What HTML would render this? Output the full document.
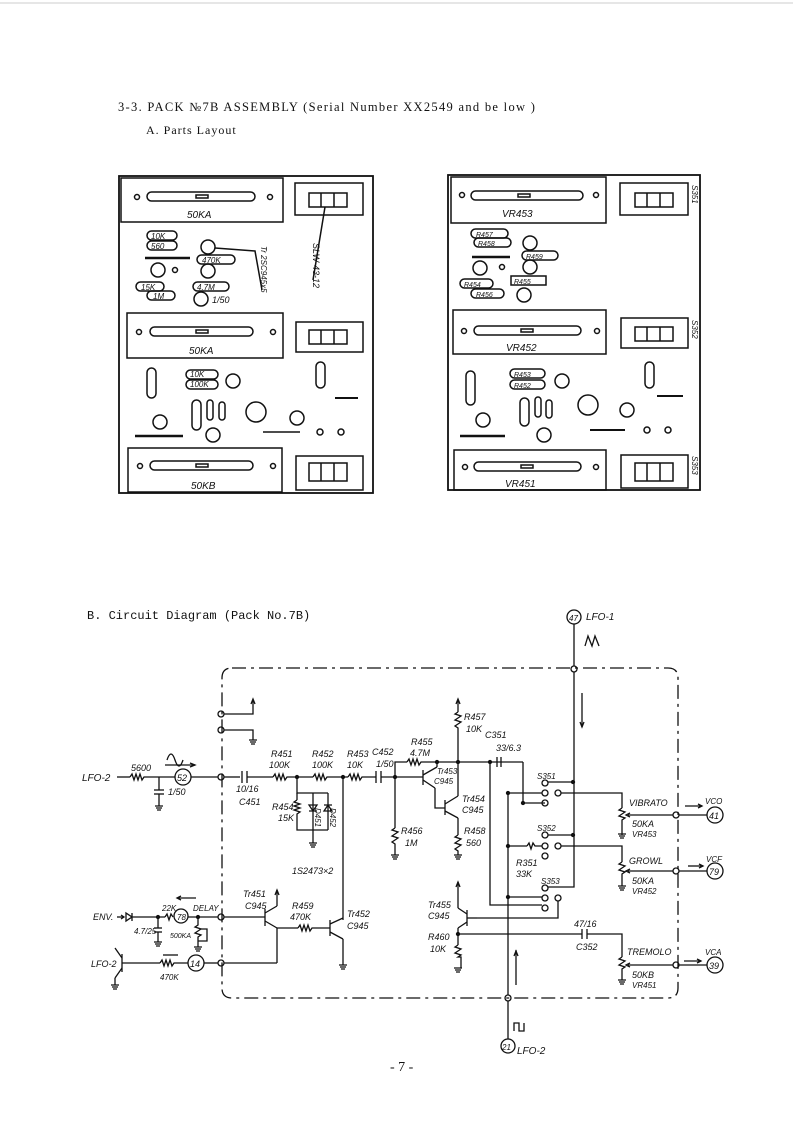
<!DOCTYPE html>
<html><head><meta charset="utf-8"><style>
html,body{margin:0;padding:0;background:#fff}
svg{display:block}
.s{font-family:"Liberation Serif",serif;fill:#111}
.m{font-family:"Liberation Mono",monospace;fill:#111}
.h{font-family:"Liberation Sans",sans-serif;font-style:italic;fill:#111}
</style></head><body>
<svg width="793" height="1122" viewBox="0 0 793 1122" xmlns="http://www.w3.org/2000/svg">
<rect width="793" height="1122" fill="#fff"/>
<line x1="0" y1="3" x2="793" y2="3" stroke="#ccc" stroke-width="1"/>
<text x="118" y="111" class="s" font-size="12.5" letter-spacing="1.3">3-3. PACK №7B ASSEMBLY (Serial Number XX2549 and be low )</text>
<text x="146" y="134" class="s" font-size="12" letter-spacing="1">A. Parts Layout</text>

<g fill="none" stroke="#111" stroke-width="1.5">
<rect x="119" y="176" width="254" height="317" stroke-width="1.8"/>
<rect x="121" y="178" width="162" height="44"/>
<rect x="127" y="313" width="156" height="45"/>
<rect x="128" y="448" width="154" height="44"/>
<rect x="295" y="183" width="68" height="32"/>
<rect x="296" y="322" width="67" height="30"/>
<rect x="296" y="456" width="67" height="34"/>
<rect x="309" y="193" width="38" height="14"/><line x1="321" y1="193" x2="321" y2="207"/><line x1="334" y1="193" x2="334" y2="207"/>
<rect x="309" y="330" width="38" height="14"/><line x1="321" y1="330" x2="321" y2="344"/><line x1="334" y1="330" x2="334" y2="344"/>
<rect x="309" y="463" width="38" height="18"/><line x1="321" y1="463" x2="321" y2="481"/><line x1="334" y1="463" x2="334" y2="481"/>
<rect x="147" y="192" width="108" height="9" rx="4.5"/><rect x="196" y="195" width="12" height="3"/>
<rect x="150" y="327" width="103" height="9" rx="4.5"/><rect x="196" y="330" width="12" height="3"/>
<rect x="150" y="461" width="103" height="9" rx="4.5"/><rect x="196" y="464" width="12" height="3"/>
<circle cx="137" cy="197" r="2.5"/><circle cx="270" cy="197" r="2.5"/>
<circle cx="139" cy="332" r="2.5"/><circle cx="273" cy="332" r="2.5"/>
<circle cx="140" cy="466" r="2.5"/><circle cx="273" cy="466" r="2.5"/>
<rect x="147" y="231" width="30" height="9" rx="4.5"/><rect x="147" y="241" width="30" height="9" rx="4.5"/>
<rect x="197" y="255" width="38" height="9" rx="4.5"/><rect x="193" y="282" width="36" height="9" rx="4.5"/>
<rect x="136" y="282" width="28" height="9" rx="4.5"/><rect x="147" y="291" width="28" height="9" rx="4.5"/>
<circle cx="208" cy="247" r="7"/><circle cx="208" cy="271" r="7"/><circle cx="158" cy="270" r="7"/><circle cx="175" cy="270" r="2.5"/>
<circle cx="201" cy="299" r="7"/><line x1="145" y1="258" x2="190" y2="258" stroke-width="2.5"/>
<polyline points="215,248 255,251 262,290"/>
<line x1="325" y1="207" x2="313" y2="280"/>
<rect x="186" y="370" width="32" height="9" rx="4.5"/><rect x="186" y="380" width="32" height="9" rx="4.5"/>
<rect x="147" y="368" width="9" height="30" rx="4.5"/><rect x="192" y="400" width="9" height="30" rx="4.5"/>
<rect x="207" y="400" width="6" height="20" rx="3"/><rect x="219" y="402" width="6" height="18" rx="3"/>
<rect x="316" y="362" width="9" height="26" rx="4.5"/>
<circle cx="233" cy="381" r="7"/><circle cx="160" cy="422" r="7"/>
<circle cx="256" cy="412" r="10"/><circle cx="297" cy="418" r="7"/><circle cx="213" cy="435" r="7"/>
<line x1="135" y1="436" x2="183" y2="436" stroke-width="2.5"/><line x1="263" y1="432" x2="300" y2="432"/>
<circle cx="320" cy="432" r="3"/><circle cx="341" cy="432" r="3"/><line x1="335" y1="398" x2="358" y2="398" stroke-width="2"/>
<rect x="448" y="175" width="252" height="315" stroke-width="1.8"/>
<rect x="451" y="177" width="155" height="46"/>
<rect x="453" y="310" width="153" height="44"/>
<rect x="454" y="450" width="152" height="40"/>
<rect x="620" y="183" width="68" height="32"/>
<rect x="621" y="318" width="67" height="30"/>
<rect x="621" y="455" width="67" height="33"/>
<rect x="635" y="193" width="38" height="14"/><line x1="647" y1="193" x2="647" y2="207"/><line x1="660" y1="193" x2="660" y2="207"/>
<rect x="635" y="327" width="38" height="14"/><line x1="647" y1="327" x2="647" y2="341"/><line x1="660" y1="327" x2="660" y2="341"/>
<rect x="635" y="463" width="38" height="18"/><line x1="647" y1="463" x2="647" y2="481"/><line x1="660" y1="463" x2="660" y2="481"/>
<rect x="471" y="191" width="112" height="9" rx="4.5"/><rect x="518" y="194" width="12" height="3"/>
<rect x="474" y="326" width="107" height="9" rx="4.5"/><rect x="521" y="329" width="12" height="3"/>
<rect x="474" y="462" width="107" height="9" rx="4.5"/><rect x="521" y="465" width="12" height="3"/>
<circle cx="462" cy="195" r="2.5"/><circle cx="596" cy="195" r="2.5"/>
<circle cx="464" cy="331" r="2.5"/><circle cx="597" cy="331" r="2.5"/>
<circle cx="465" cy="467" r="2.5"/><circle cx="596" cy="467" r="2.5"/>
<rect x="471" y="229" width="37" height="9" rx="4.5"/><rect x="474" y="238" width="37" height="9" rx="4.5"/>
<rect x="522" y="251" width="36" height="9" rx="4.5"/><rect x="511" y="276" width="35" height="9"/>
<rect x="460" y="279" width="33" height="9" rx="4.5"/><rect x="471" y="289" width="33" height="9" rx="4.5"/>
<circle cx="530" cy="243" r="7"/><circle cx="530" cy="267" r="7"/><circle cx="480" cy="268" r="7"/><circle cx="502" cy="267" r="2.5"/>
<circle cx="524" cy="295" r="7"/><line x1="472" y1="257" x2="510" y2="257" stroke-width="2.5"/>
<rect x="510" y="369" width="35" height="9" rx="4.5"/><rect x="510" y="380" width="35" height="9" rx="4.5"/>
<rect x="466" y="371" width="9" height="34" rx="4.5"/><rect x="520" y="398" width="9" height="28" rx="4.5"/>
<rect x="535" y="397" width="6" height="20" rx="3"/><rect x="546" y="400" width="6" height="18" rx="3"/>
<rect x="645" y="362" width="9" height="26" rx="4.5"/>
<circle cx="562" cy="381" r="7"/><circle cx="483" cy="420" r="7"/>
<circle cx="588" cy="405" r="10"/><circle cx="627" cy="410" r="7"/><circle cx="544" cy="435" r="7"/>
<line x1="460" y1="436" x2="505" y2="436" stroke-width="2.5"/><line x1="590" y1="430" x2="625" y2="430" stroke-width="2"/>
<circle cx="647" cy="430" r="3"/><circle cx="668" cy="430" r="3"/><line x1="657" y1="396" x2="683" y2="396" stroke-width="2"/>
</g>
<g class="h" font-size="10">
<text x="187" y="218">50KA</text><text x="189" y="354">50KA</text><text x="191" y="489">50KB</text>
<text x="151" y="239" font-size="8">10K</text><text x="151" y="249" font-size="8">560</text>
<text x="202" y="263" font-size="8">470K</text><text x="197" y="290" font-size="8">4.7M</text>
<text x="141" y="290" font-size="8">15K</text><text x="153" y="299" font-size="8">1M</text>
<text x="212" y="303" font-size="9">1/50</text>
<text x="190" y="377" font-size="8">10K</text><text x="190" y="387" font-size="8">100K</text>
<text x="0" y="0" font-size="8" transform="translate(261,246) rotate(90)">Tr 2SC945x5</text>
<text x="0" y="0" font-size="9" transform="translate(313,243) rotate(90)">SLW-43-12</text>
<text x="502" y="217">VR453</text><text x="506" y="351">VR452</text><text x="505" y="487">VR451</text>
<text x="476" y="237" font-size="7">R457</text><text x="478" y="246" font-size="7">R458</text>
<text x="526" y="259" font-size="7">R459</text><text x="514" y="284" font-size="7">R455</text>
<text x="464" y="287" font-size="7">R454</text><text x="476" y="297" font-size="7">R456</text>
<text x="514" y="377" font-size="7">R453</text><text x="514" y="388" font-size="7">R452</text>
<text x="0" y="0" font-size="8" transform="translate(692,185) rotate(90)">S351</text>
<text x="0" y="0" font-size="8" transform="translate(692,320) rotate(90)">S352</text>
<text x="0" y="0" font-size="8" transform="translate(692,456) rotate(90)">S353</text>
</g>

<text x="87" y="619" class="m" font-size="12">B. Circuit Diagram (Pack No.7B)</text>

<g fill="none" stroke="#111" stroke-width="1.3">
<path d="M232,668 H668 Q678,668 678,678 V988 Q678,998 668,998 H232 Q222,998 222,988 V678 Q222,668 232,668 Z" stroke-dasharray="14,5,3,5"/>
<line x1="117" y1="777" x2="130" y2="777"/>
<path d="M130,777 l2,-3 l2,6 l2,-6 l2,6 l2,-6 l2,6 l2,-3 H175"/>
<circle cx="183" cy="777" r="8"/><line x1="191" y1="777" x2="218" y2="777"/>
<line x1="159" y1="777" x2="159" y2="790"/><line x1="154" y1="790" x2="164" y2="790"/><line x1="154" y1="794" x2="164" y2="794"/><line x1="159" y1="794" x2="159" y2="806"/>
<path d="M155,806 h8 M156,808 h6 M157,810 h4"/>
<line x1="165" y1="765" x2="195" y2="765"/><path d="M190,763 l5,2 l-5,2"/>
<path d="M167,760 q4,-12 8,0 q4,12 8,0"/>
<circle cx="221" cy="777" r="3"/>
<line x1="224" y1="777" x2="240" y2="777"/>
<line x1="242" y1="771" x2="242" y2="783"/><line x1="247" y1="771" x2="247" y2="783"/>
<line x1="247" y1="777" x2="273" y2="777"/>
<path d="M273,777 l2,-3 l2,6 l2,-6 l2,6 l2,-6 l2,6 l2,-3 H313"/>
<path d="M313,777 l2,-3 l2,6 l2,-6 l2,6 l2,-6 l2,6 l2,-3 H348"/>
<path d="M348,777 l2,-3 l2,6 l2,-6 l2,6 l2,-6 l2,6 l2,-3 H376"/>
<line x1="376" y1="771" x2="376" y2="783"/><line x1="381" y1="771" x2="381" y2="783"/>
<line x1="381" y1="777" x2="423" y2="777"/>
<circle cx="297" cy="777" r="1.5" fill="#111"/><circle cx="343" cy="777" r="1.5" fill="#111"/><circle cx="395" cy="777" r="1.5" fill="#111"/>
<circle cx="221" cy="714" r="3"/><polyline points="224,714 253,714 253,700"/>
<path d="M251,704 l2,-5 l2,5"/>
<circle cx="221" cy="730" r="3"/><polyline points="224,730 253,730 253,740"/>
<path d="M249,740 h8 M250,742 h6 M251,744 h4"/>
<polyline points="297,777 297,793 328,793"/>
<path d="M297,800 l-3,2 l6,2 l-6,2 l6,2 l-6,2 l6,2 l-3,2 V830 H328"/>
<line x1="297" y1="793" x2="297" y2="800"/>
<line x1="313" y1="793" x2="313" y2="830"/><path d="M309,805 h8 l-4,6 z M309,811 h8"/>
<line x1="328" y1="793" x2="328" y2="830"/><path d="M324,811 h8 l-4,-6 z M324,805 h8"/>
<line x1="313" y1="830" x2="313" y2="843"/><path d="M309,843 h8 M310,845 h6 M311,847 h4"/>
<line x1="343" y1="777" x2="343" y2="920"/>
<line x1="395" y1="777" x2="395" y2="828"/>
<path d="M395,828 l-3,2 l6,2 l-3,2 l-3,2 l6,2 l-3,2 l-3,2 l3,2 V855"/>
<path d="M391,855 h8 M392,857 h6 M393,859 h4"/>
<polyline points="395,777 395,762 407,762"/>
<path d="M407,762 l2,-3 l2,6 l2,-6 l2,6 l2,-6 l2,6 l2,-3 H523"/>
<circle cx="437" cy="762" r="1.5" fill="#111"/><circle cx="458" cy="762" r="1.5" fill="#111"/><circle cx="490" cy="762" r="1.5" fill="#111"/>
<line x1="423" y1="770" x2="423" y2="785"/><line x1="423" y1="775" x2="437" y2="767"/><line x1="437" y1="767" x2="437" y2="762"/>
<line x1="423" y1="780" x2="435" y2="788"/><polyline points="435,788 435,808 445,808"/>
<line x1="445" y1="800" x2="445" y2="815"/><line x1="445" y1="804" x2="458" y2="796"/><line x1="458" y1="796" x2="458" y2="762"/>
<line x1="445" y1="811" x2="458" y2="818"/><line x1="458" y1="818" x2="458" y2="835"/>
<path d="M458,835 l-3,2 l6,2 l-3,2 l-3,2 l6,2 l-3,2 l-3,2 l3,2 V855"/>
<path d="M454,855 h8 M455,857 h6 M456,859 h4"/>
<line x1="458" y1="700" x2="458" y2="712"/><path d="M456,704 l2,-5 l2,5"/>
<path d="M458,712 l-3,2 l6,2 l-3,2 l-3,2 l6,2 l-3,2 l-3,2 l3,2 V762"/>
<line x1="497" y1="757" x2="497" y2="767"/><line x1="501" y1="757" x2="501" y2="767"/>
<polyline points="523,762 523,803 545,803"/>
<polyline points="490,762 490,905 542,905"/>
<circle cx="545" cy="783" r="3"/><circle cx="545" cy="793" r="3"/><circle cx="558" cy="793" r="3"/><circle cx="545" cy="803" r="3"/>
<circle cx="545" cy="835" r="3"/><circle cx="545" cy="846" r="3"/><circle cx="558" cy="846" r="3"/><circle cx="545" cy="856" r="3"/>
<circle cx="545" cy="888" r="3"/><circle cx="545" cy="898" r="3"/><circle cx="558" cy="898" r="3"/><circle cx="545" cy="908" r="3"/>
<circle cx="574" cy="617" r="7"/><line x1="574" y1="624" x2="574" y2="666"/><circle cx="574" cy="669" r="3"/>
<polyline points="574,672 574,887 548,887"/>
<line x1="548" y1="782" x2="574" y2="782"/><line x1="548" y1="835" x2="574" y2="835"/>
<circle cx="573" cy="782" r="1.5" fill="#111"/><circle cx="573" cy="835" r="1.5" fill="#111"/>
<path d="M585,646 l3,-10 l4,10 l3,-10 l4,10"/>
<line x1="582" y1="693" x2="582" y2="727"/><path d="M580,722 l2,5 l2,-5"/>
<polyline points="561,793 622,793 622,808"/>
<polyline points="508,793 542,793"/>
<polyline points="508,846 527,846"/><path d="M527,846 l2,-3 l2,6 l2,-6 l2,3 H542"/>
<polyline points="561,846 622,846 622,862"/>
<polyline points="508,897 542,897"/>
<polyline points="558,901 558,918 477,918"/>
<line x1="508" y1="793" x2="508" y2="995"/><circle cx="508" cy="998" r="3"/><line x1="508" y1="1001" x2="508" y2="1039"/>
<circle cx="508" cy="1046" r="7"/>
<path d="M514,1031 v-8 h5 v8 h5 v-8"/>
<line x1="516" y1="950" x2="516" y2="985"/><path d="M514,956 l2,-5 l2,5"/>
<circle cx="508" cy="793" r="1.5" fill="#111"/><circle cx="508" cy="846" r="1.5" fill="#111"/><circle cx="508" cy="897" r="1.5" fill="#111"/>
<circle cx="523" cy="803" r="1.5" fill="#111"/>
<path d="M622,808 l-3,2 l6,2 l-3,2 l-3,2 l6,2 l-3,2 V835"/>
<path d="M618,834 h8 M619,836 h6 M620,838 h4"/>
<line x1="628" y1="815" x2="673" y2="815"/><path d="M630,813 l-4,2 l4,2"/>
<circle cx="676" cy="815" r="3"/><line x1="679" y1="815" x2="707" y2="815"/><circle cx="715" cy="815" r="8"/>
<line x1="685" y1="806" x2="702" y2="806"/><path d="M698,804 l4,2 l-4,2"/>
<path d="M622,862 l-3,2 l6,2 l-3,2 l-3,2 l6,2 l-3,2 V886"/><path d="M618,886 h8 M619,888 h6 M620,890 h4"/>
<line x1="628" y1="871" x2="673" y2="871"/><path d="M630,869 l-4,2 l4,2"/>
<circle cx="676" cy="871" r="3"/><line x1="679" y1="871" x2="707" y2="871"/><circle cx="715" cy="871" r="8"/>
<line x1="688" y1="866" x2="703" y2="866"/><path d="M699,864 l4,2 l-4,2"/>
<polyline points="458,934 582,934"/><line x1="582" y1="929" x2="582" y2="939"/><line x1="587" y1="929" x2="587" y2="939"/>
<polyline points="587,934 622,934 622,957"/>
<path d="M622,957 l-3,2 l6,2 l-3,2 l-3,2 l6,2 l-3,2 V980"/><path d="M618,980 h8 M619,982 h6 M620,984 h4"/>
<line x1="628" y1="965" x2="673" y2="965"/><path d="M630,963 l-4,2 l4,2"/>
<circle cx="676" cy="965" r="3"/><line x1="679" y1="965" x2="707" y2="965"/><circle cx="715" cy="965" r="8"/>
<line x1="684" y1="961" x2="701" y2="961"/><path d="M697,959 l4,2 l-4,2"/>
<line x1="467" y1="910" x2="467" y2="926"/><line x1="467" y1="918" x2="477" y2="918"/>
<line x1="467" y1="914" x2="458" y2="908"/><line x1="458" y1="908" x2="458" y2="882"/><path d="M456,887 l2,-5 l2,5"/>
<line x1="467" y1="922" x2="458" y2="928"/><line x1="458" y1="928" x2="458" y2="945"/>
<circle cx="458" cy="934" r="1.5" fill="#111"/>
<path d="M458,945 l-3,2 l6,2 l-3,2 l-3,2 l6,2 l-3,2 l3,0 V968"/><path d="M454,968 h8 M455,970 h6 M456,972 h4"/>
<line x1="117" y1="917" x2="124" y2="917"/><path d="M121,915 l3,2 l-3,2"/>
<path d="M126,913 l6,4 l-6,4 z M132,913 v8"/>
<line x1="132" y1="917" x2="165" y2="917"/>
<path d="M165,917 l2,-3 l2,6 l2,-6 l2,3"/>
<circle cx="181" cy="916" r="7"/><line x1="188" y1="917" x2="218" y2="917"/>
<circle cx="158" cy="917" r="1.5" fill="#111"/><line x1="158" y1="917" x2="158" y2="928"/>
<line x1="154" y1="928" x2="162" y2="928"/><line x1="154" y1="932" x2="162" y2="932"/><line x1="158" y1="932" x2="158" y2="942"/>
<path d="M154,942 h8 M155,944 h6 M156,946 h4"/>
<circle cx="198" cy="917" r="1.5" fill="#111"/>
<path d="M198,917 v8 l-3,2 l6,2 l-3,2 l-3,2 l6,2 l-3,2 v10"/><polyline points="201,929 207,929 207,941 198,941"/>
<path d="M194,947 h8 M195,949 h6 M196,951 h4"/>
<line x1="178" y1="898" x2="196" y2="898"/><path d="M181,896 l-4,2 l4,2"/>
<circle cx="221" cy="917" r="3"/><polyline points="224,917 265,917"/>
<line x1="265" y1="909" x2="265" y2="926"/><line x1="265" y1="913" x2="277" y2="906"/><line x1="277" y1="906" x2="277" y2="890"/><path d="M275,895 l2,-5 l2,5"/>
<line x1="265" y1="921" x2="277" y2="928"/><line x1="277" y1="928" x2="277" y2="963"/>
<line x1="277" y1="928" x2="298" y2="928"/>
<path d="M298,928 l2,-3 l2,6 l2,-6 l2,6 l2,-6 l2,6 l2,-3 H330"/>
<line x1="330" y1="920" x2="330" y2="936"/><line x1="330" y1="924" x2="343" y2="918"/><line x1="330" y1="932" x2="343" y2="939"/>
<line x1="343" y1="939" x2="343" y2="965"/><path d="M339,965 h8 M340,967 h6 M341,969 h4"/>
<line x1="122" y1="954" x2="122" y2="972"/><line x1="122" y1="963" x2="160" y2="963"/>
<line x1="122" y1="958" x2="115" y2="948"/><line x1="122" y1="968" x2="115" y2="978"/><line x1="115" y1="978" x2="115" y2="985"/>
<path d="M111,985 h8 M112,987 h6 M113,989 h4"/>
<path d="M160,963 l2,-3 l2,6 l2,-6 l2,6 l2,-6 l2,6 l2,-3 H188"/>
<circle cx="196" cy="963" r="8"/><line x1="204" y1="963" x2="218" y2="963"/>
<line x1="163" y1="955" x2="178" y2="955"/>
<circle cx="221" cy="963" r="3"/><line x1="224" y1="963" x2="277" y2="963"/>
</g>
<g class="h" font-size="10">
<text x="82" y="781">LFO-2</text><text x="131" y="771" font-size="9">5600</text>
<text x="177" y="781" font-size="9">52</text><text x="168" y="795" font-size="9">1/50</text>
<text x="236" y="792" font-size="9">10/16</text><text x="239" y="805" font-size="9">C451</text>
<text x="271" y="757" font-size="9">R451</text><text x="269" y="768" font-size="9">100K</text>
<text x="312" y="757" font-size="9">R452</text><text x="312" y="768" font-size="9">100K</text>
<text x="347" y="757" font-size="9">R453</text><text x="347" y="768" font-size="9">10K</text>
<text x="372" y="755" font-size="9">C452</text><text x="376" y="767" font-size="9">1/50</text>
<text x="272" y="810" font-size="9">R454</text><text x="278" y="821" font-size="9">15K</text>
<text x="0" y="0" font-size="8" transform="translate(315,808) rotate(90)">D451</text>
<text x="0" y="0" font-size="8" transform="translate(330,808) rotate(90)">D452</text>
<text x="292" y="874" font-size="9">1S2473×2</text>
<text x="401" y="834" font-size="9">R456</text><text x="405" y="846" font-size="9">1M</text>
<text x="411" y="745" font-size="9">R455</text><text x="410" y="756" font-size="9">4.7M</text>
<text x="464" y="720" font-size="9">R457</text><text x="466" y="732" font-size="9">10K</text>
<text x="485" y="738" font-size="9">C351</text><text x="496" y="751" font-size="9">33/6.3</text>
<text x="437" y="774" font-size="8">Tr453</text><text x="434" y="784" font-size="8">C945</text>
<text x="462" y="802" font-size="9">Tr454</text><text x="462" y="813" font-size="9">C945</text>
<text x="464" y="834" font-size="9">R458</text><text x="466" y="846" font-size="9">560</text>
<text x="537" y="779" font-size="8">S351</text><text x="537" y="831" font-size="8">S352</text><text x="541" y="884" font-size="8">S353</text>
<text x="516" y="866" font-size="9">R351</text><text x="516" y="877" font-size="9">33K</text>
<text x="629" y="806" font-size="9">VIBRATO</text><text x="632" y="827" font-size="9">50KA</text><text x="632" y="837" font-size="8">VR453</text>
<text x="629" y="864" font-size="9">GROWL</text><text x="632" y="884" font-size="9">50KA</text><text x="632" y="894" font-size="8">VR452</text>
<text x="627" y="955" font-size="9">TREMOLO</text><text x="632" y="978" font-size="9">50KB</text><text x="632" y="988" font-size="8">VR451</text>
<text x="705" y="804" font-size="8">VCO</text><text x="709" y="819" font-size="9">41</text>
<text x="706" y="862" font-size="8">VCF</text><text x="709" y="875" font-size="9">79</text>
<text x="705" y="955" font-size="8">VCA</text><text x="709" y="969" font-size="9">39</text>
<text x="569" y="621" font-size="8">47</text><text x="586" y="620" font-size="10">LFO-1</text>
<text x="502" y="1050" font-size="8">21</text><text x="517" y="1054" font-size="10">LFO-2</text>
<text x="428" y="908" font-size="9">Tr455</text><text x="428" y="919" font-size="9">C945</text>
<text x="428" y="940" font-size="9">R460</text><text x="430" y="952" font-size="9">10K</text>
<text x="574" y="927" font-size="9">47/16</text><text x="576" y="950" font-size="9">C352</text>
<text x="243" y="897" font-size="9">Tr451</text><text x="245" y="909" font-size="9">C945</text>
<text x="292" y="909" font-size="9">R459</text><text x="290" y="920" font-size="9">470K</text>
<text x="347" y="917" font-size="9">Tr452</text><text x="347" y="929" font-size="9">C945</text>
<text x="93" y="920" font-size="9">ENV.</text><text x="162" y="911" font-size="8">22K</text>
<text x="177" y="920" font-size="8">78</text><text x="193" y="911" font-size="8">DELAY</text>
<text x="134" y="934" font-size="8">4.7/25</text><text x="170" y="938" font-size="7">500KA</text>
<text x="91" y="967" font-size="9">LFO-2</text><text x="160" y="980" font-size="8">470K</text>
<text x="190" y="967" font-size="9">14</text>
</g>
<text x="390" y="1071" class="s" font-size="14">- 7 -</text>
</svg>
</body></html>
